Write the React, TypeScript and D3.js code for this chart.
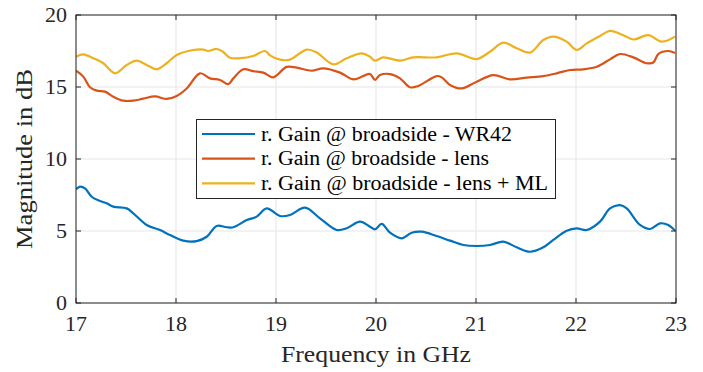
import React from "react";
import * as d3 from "d3";

// ---- data ----
const freqWR42 = [17.0, 17.04, 17.09, 17.157, 17.24, 17.307, 17.373, 17.507, 17.573, 17.707, 17.84, 17.94, 18.073, 18.207, 18.307, 18.407, 18.507, 18.573, 18.707, 18.807, 18.907, 19.04, 19.14, 19.29, 19.44, 19.607, 19.707, 19.84, 19.94, 19.99, 20.057, 20.14, 20.257, 20.357, 20.457, 20.607, 20.74, 20.873, 21.007, 21.14, 21.273, 21.407, 21.54, 21.673, 21.773, 21.907, 22.007, 22.107, 22.24, 22.34, 22.44, 22.507, 22.64, 22.74, 22.84, 22.923, 22.99];
const gainWR42 = [7.9, 8.08, 7.96, 7.38, 7.08, 6.92, 6.69, 6.57, 6.23, 5.42, 5.07, 4.72, 4.33, 4.3, 4.6, 5.35, 5.26, 5.26, 5.76, 6.0, 6.57, 6.04, 6.11, 6.62, 5.88, 5.07, 5.19, 5.65, 5.3, 5.12, 5.49, 4.88, 4.49, 4.88, 4.95, 4.65, 4.33, 4.03, 3.96, 4.03, 4.26, 3.87, 3.56, 3.87, 4.38, 5.02, 5.18, 5.07, 5.65, 6.57, 6.8, 6.57, 5.42, 5.14, 5.53, 5.42, 5.02];

const freqLens = [17.0, 17.073, 17.14, 17.207, 17.29, 17.373, 17.473, 17.573, 17.673, 17.79, 17.907, 18.007, 18.107, 18.24, 18.34, 18.44, 18.523, 18.573, 18.673, 18.773, 18.873, 18.973, 19.107, 19.207, 19.357, 19.473, 19.64, 19.773, 19.873, 19.94, 19.99, 20.04, 20.14, 20.24, 20.34, 20.423, 20.607, 20.657, 20.74, 20.857, 21.007, 21.173, 21.34, 21.507, 21.673, 21.807, 21.94, 22.073, 22.207, 22.34, 22.44, 22.573, 22.707, 22.773, 22.823, 22.923, 22.99];
const gainLens = [16.13, 15.72, 14.98, 14.75, 14.68, 14.33, 14.05, 14.05, 14.19, 14.35, 14.17, 14.38, 14.9, 15.95, 15.6, 15.49, 15.2, 15.6, 16.23, 16.1, 16.0, 15.67, 16.4, 16.34, 16.13, 16.3, 16.0, 15.53, 15.76, 15.9, 15.5, 15.83, 15.9, 15.6, 14.98, 15.07, 15.76, 15.67, 15.14, 14.9, 15.37, 15.83, 15.53, 15.65, 15.76, 15.95, 16.18, 16.23, 16.4, 16.92, 17.29, 17.06, 16.65, 16.7, 17.29, 17.5, 17.36];

const freqLensML = [17.0, 17.073, 17.173, 17.273, 17.39, 17.507, 17.607, 17.707, 17.807, 17.907, 18.007, 18.173, 18.273, 18.32, 18.407, 18.47, 18.54, 18.64, 18.77, 18.89, 18.94, 19.04, 19.14, 19.307, 19.407, 19.573, 19.707, 19.857, 19.94, 19.99, 20.073, 20.24, 20.373, 20.607, 20.807, 21.007, 21.14, 21.273, 21.407, 21.54, 21.673, 21.773, 21.907, 22.007, 22.107, 22.24, 22.34, 22.473, 22.573, 22.723, 22.857, 22.99];
const gainLensML = [17.1, 17.27, 17.0, 16.65, 15.95, 16.53, 16.83, 16.53, 16.23, 16.65, 17.22, 17.57, 17.6, 17.5, 17.64, 17.45, 17.03, 17.0, 17.15, 17.5, 17.2, 16.9, 16.9, 17.6, 17.4, 16.57, 17.0, 17.34, 17.1, 16.83, 17.06, 16.83, 17.06, 17.06, 17.34, 16.94, 17.45, 18.08, 17.69, 17.39, 18.26, 18.5, 18.15, 17.57, 18.03, 18.54, 18.9, 18.6, 18.3, 18.6, 18.15, 18.5];

const xTicks = [17, 18, 19, 20, 21, 22, 23];
const yTicks = [0, 5, 10, 15, 20];
const seriesNames = [
  "r.  Gain @ broadside - WR42",
  "r.  Gain @ broadside - lens",
  "r.  Gain @ broadside - lens + ML",
];
const seriesColors = ["#0072BD", "#D95319", "#EDB120"];
const xLabel = "Frequency in GHz";
const yLabel = "Magnitude in dB";

// ---- layout ----
const W = 703, H = 372;
const L = 76, R = 676, T = 15, B = 303;
const FONT = '"Liberation Serif", "DejaVu Serif", "Times New Roman", Times, serif';
const AX = "#262626";
const fs = (size: number) => ({ fontFamily: FONT, fontSize: size + "px" });

export default function App() {
  const x = d3.scaleLinear().domain([17, 23]).range([L, R]);
  const y = d3.scaleLinear().domain([0, 20]).range([B, T]);
  const line = d3
    .line<[number, number]>()
    .x((d) => x(d[0]))
    .y((d) => y(d[1]))
    .curve(d3.curveCatmullRom.alpha(0.5));

  const series = [
    d3.zip(freqWR42, gainWR42) as [number, number][],
    d3.zip(freqLens, gainLens) as [number, number][],
    d3.zip(freqLensML, gainLensML) as [number, number][],
  ];

  const legendTextLen = [251, 228, 287];
  const tl = 5;

  return (
    <svg
      width={W}
      height={H}
      style={{ position: "absolute", left: 0, top: 0, background: "#fff" }}
    >
      <rect x={0} y={0} width={W} height={H} fill="#fff" />
      {xTicks.map((t) => (
        <line key={"gx" + t} x1={x(t)} x2={x(t)} y1={T} y2={B} stroke="#e5e5e5" strokeWidth={1} />
      ))}
      {yTicks.map((t) => (
        <line key={"gy" + t} x1={L} x2={R} y1={y(t)} y2={y(t)} stroke="#e5e5e5" strokeWidth={1} />
      ))}
      <defs>
        <clipPath id="clip">
          <rect x={L} y={T - 2} width={R - L} height={B - T + 4} />
        </clipPath>
      </defs>
      <g clipPath="url(#clip)">
        {series.map((s, i) => (
          <path key={i} d={line(s) || ""} fill="none" stroke={seriesColors[i]} strokeWidth={2.2} strokeLinejoin="round" />
        ))}
      </g>
      <rect x={L} y={T} width={R - L} height={B - T} fill="none" stroke={AX} strokeWidth={1} />
      {xTicks.map((t) => (
        <g key={"tx" + t}>
          <line x1={x(t)} x2={x(t)} y1={B} y2={B - tl} stroke={AX} />
          <line x1={x(t)} x2={x(t)} y1={T} y2={T + tl} stroke={AX} />
          <text x={x(t)} y={331} textAnchor="middle" style={fs(22)} fill={AX}>
            {t}
          </text>
        </g>
      ))}
      {yTicks.map((t) => (
        <g key={"ty" + t}>
          <line x1={L} x2={L + tl} y1={y(t)} y2={y(t)} stroke={AX} />
          <line x1={R} x2={R - tl} y1={y(t)} y2={y(t)} stroke={AX} />
          <text x={67} y={y(t) + 7} textAnchor="end" style={fs(22)} fill={AX}>
            {t}
          </text>
        </g>
      ))}
      <text x={(L + R) / 2} y={362} textAnchor="middle" style={fs(24)} fill={AX} textLength={190} lengthAdjust="spacingAndGlyphs">
        {xLabel}
      </text>
      <text
        transform={`translate(32, ${(T + B) / 2}) rotate(-90)`}
        textAnchor="middle"
        style={fs(24)}
        fill={AX}
        textLength={180}
        lengthAdjust="spacingAndGlyphs"
      >
        {yLabel}
      </text>
      <rect x={196.5} y={119.5} width={359} height={79} fill="#fff" stroke={AX} strokeWidth={1} />
      {seriesNames.map((n, i) => {
        const ly = 134 + i * 24.7;
        return (
          <g key={"lg" + i}>
            <line x1={202} x2={255} y1={ly} y2={ly} stroke={seriesColors[i]} strokeWidth={2.2} />
            <text x={261} y={ly + 6.5} style={fs(20)} fill="#000" textLength={legendTextLen[i]} lengthAdjust="spacingAndGlyphs">
              {n}
            </text>
          </g>
        );
      })}
    </svg>
  );
}
